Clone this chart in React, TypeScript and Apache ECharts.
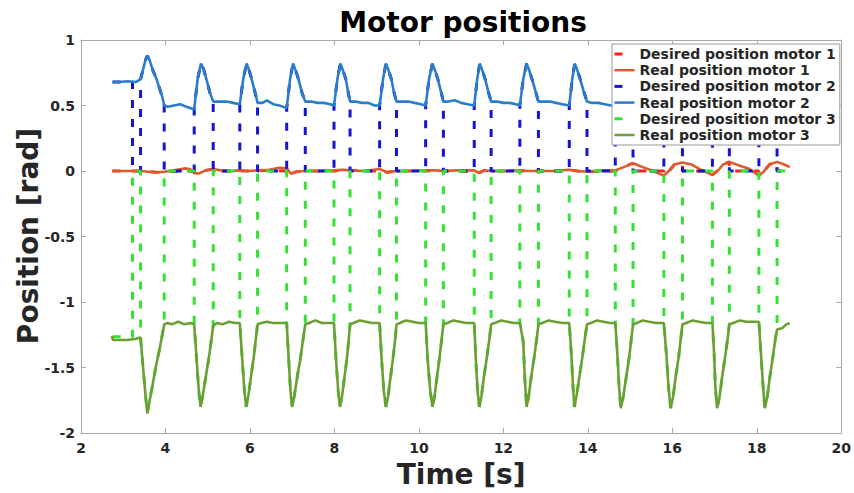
import { useEffect, useRef } from "react";
import * as echarts from "echarts";

const TITLE = "Motor positions";
const X_NAME = "Time [s]";
const Y_NAME = "Position [rad]";

const seriesNames = [
  "Desired position motor 1",
  "Real position motor 1",
  "Desired position motor 2",
  "Real position motor 2",
  "Desired position motor 3",
  "Real position motor 3",
];
const seriesColors = ["#ff1f1f", "#dc5a2c", "#1414d2", "#2a7dca", "#33e233", "#6a9f34"];

const X_MIN = 2;
const X_MAX = 20;
const X_STEP = 2;
const Y_MIN = -2;
const Y_MAX = 1;
const Y_STEP = 0.5;

// Measured joint angles [t (s), angle (rad)]
const realMotor1: [number, number][] = [
  [2.73, 0], [3.0, 0], [3.22, 0], [3.41, 0], [3.6, -0.005], [3.8, -0.01], [3.97, -0.005],
  [4.2, 0.005], [4.45, 0.02], [4.58, 0.015], [4.68, -0.015], [4.78, -0.02], [4.95, 0.005],
  [5.13, 0.015], [5.3, 0.005], [5.55, 0], [5.76, 0.005], [5.95, 0], [6.18, 0.005], [6.45, 0.01],
  [6.7, 0.025], [6.87, 0.02], [6.97, -0.02], [7.1, -0.005], [7.31, 0], [7.6, 0], [7.99, 0.005],
  [8.2, 0.01], [8.37, 0.005], [8.7, 0], [9.07, 0.015], [9.25, -0.01], [9.47, 0], [9.8, 0],
  [10.16, 0.005], [10.4, 0.005], [10.58, 0], [10.9, 0.005], [11.31, 0.005], [11.42, -0.015],
  [11.55, 0.005], [11.71, 0], [12.05, 0], [12.39, 0.005], [12.6, 0], [12.83, 0], [13.2, 0],
  [13.56, 0.01], [13.75, 0], [13.98, -0.005], [14.3, 0.005], [14.65, 0.005], [14.85, 0.03],
  [15.07, 0.06], [15.3, 0.03], [15.55, 0], [15.8, -0.035], [15.95, 0.01], [16.05, 0.05],
  [16.24, 0.065], [16.45, 0.05], [16.65, 0.015], [16.95, -0.03], [17.1, 0.01], [17.2, 0.05],
  [17.35, 0.07], [17.6, 0.04], [17.8, 0.02], [18.05, -0.035], [18.15, -0.01], [18.3, 0.05],
  [18.48, 0.07], [18.65, 0.05], [18.78, 0.03],
];

const realMotor2: [number, number][] = [
  [2.74, 0.68], [2.9, 0.68], [3.1, 0.685], [3.3, 0.68], [3.41, 0.7],
  [3.52, 0.84], [3.57, 0.88], [3.62, 0.85], [3.7, 0.77], [3.79, 0.7], [3.86, 0.63], [3.93, 0.56], [3.97, 0.5],
  [4.05, 0.49], [4.2, 0.5], [4.35, 0.51], [4.5, 0.49], [4.68, 0.47],
  [4.76, 0.7], [4.84, 0.82], [4.9, 0.78], [4.97, 0.7], [5.05, 0.6], [5.13, 0.53],
  [5.3, 0.53], [5.45, 0.53], [5.6, 0.52], [5.76, 0.51],
  [5.84, 0.7], [5.92, 0.82], [5.98, 0.77], [6.05, 0.69], [6.12, 0.6], [6.18, 0.52],
  [6.3, 0.52], [6.4, 0.54], [6.55, 0.51], [6.7, 0.5], [6.87, 0.48],
  [6.95, 0.7], [7.02, 0.82], [7.08, 0.77], [7.15, 0.7], [7.23, 0.6], [7.31, 0.53],
  [7.45, 0.53], [7.6, 0.52], [7.75, 0.52], [7.9, 0.51], [7.99, 0.5],
  [8.07, 0.7], [8.14, 0.82], [8.2, 0.77], [8.27, 0.7], [8.32, 0.61], [8.37, 0.53],
  [8.5, 0.53], [8.65, 0.52], [8.8, 0.52], [8.95, 0.5], [9.07, 0.5],
  [9.15, 0.7], [9.22, 0.82], [9.28, 0.77], [9.35, 0.7], [9.41, 0.6], [9.47, 0.53],
  [9.6, 0.53], [9.75, 0.53], [9.9, 0.52], [10.05, 0.51], [10.16, 0.5],
  [10.24, 0.7], [10.32, 0.82], [10.38, 0.77], [10.45, 0.7], [10.52, 0.61], [10.58, 0.53],
  [10.7, 0.53], [10.85, 0.54], [11.0, 0.52], [11.15, 0.51], [11.31, 0.5],
  [11.38, 0.7], [11.44, 0.82], [11.5, 0.77], [11.57, 0.7], [11.64, 0.61], [11.71, 0.53],
  [11.85, 0.53], [12.0, 0.52], [12.15, 0.52], [12.3, 0.51], [12.39, 0.5],
  [12.47, 0.7], [12.55, 0.82], [12.61, 0.77], [12.68, 0.7], [12.76, 0.61], [12.83, 0.53],
  [12.95, 0.53], [13.1, 0.53], [13.25, 0.52], [13.4, 0.51], [13.56, 0.5],
  [13.63, 0.7], [13.69, 0.82], [13.75, 0.77], [13.82, 0.7], [13.9, 0.61], [13.98, 0.53],
  [14.1, 0.52], [14.25, 0.52], [14.4, 0.51], [14.55, 0.5], [14.65, 0.5],
  [14.72, 0.7], [14.79, 0.82], [14.85, 0.77], [14.92, 0.7], [15.0, 0.61], [15.07, 0.53],
  [15.2, 0.53], [15.35, 0.52], [15.5, 0.52], [15.65, 0.51], [15.8, 0.5],
  [15.88, 0.7], [15.96, 0.82], [16.02, 0.77], [16.09, 0.7], [16.17, 0.61], [16.24, 0.53],
  [16.4, 0.53], [16.55, 0.52], [16.7, 0.52], [16.85, 0.51], [16.95, 0.5],
  [17.01, 0.7], [17.07, 0.82], [17.13, 0.77], [17.2, 0.7], [17.28, 0.61], [17.35, 0.53],
  [17.5, 0.53], [17.65, 0.52], [17.8, 0.52], [17.95, 0.51], [18.05, 0.5],
  [18.12, 0.7], [18.19, 0.82], [18.25, 0.77], [18.32, 0.7], [18.4, 0.61], [18.48, 0.53],
  [18.6, 0.53], [18.78, 0.52],
];

const realMotor3: [number, number][] = [
  [2.73, -1.26], [2.76, -1.29], [2.9, -1.29], [3.1, -1.29], [3.3, -1.28], [3.41, -1.27],
  [3.47, -1.5], [3.53, -1.72], [3.57, -1.85], [3.62, -1.76], [3.69, -1.64], [3.78, -1.48], [3.86, -1.36], [3.93, -1.24], [3.97, -1.17],
  [4.05, -1.16], [4.15, -1.17], [4.3, -1.15], [4.45, -1.17], [4.6, -1.16], [4.68, -1.17],
  [4.74, -1.45], [4.79, -1.68], [4.83, -1.8], [4.88, -1.72], [4.95, -1.58], [5.03, -1.42], [5.09, -1.28], [5.13, -1.18],
  [5.22, -1.16], [5.35, -1.17], [5.5, -1.15], [5.65, -1.16], [5.76, -1.16],
  [5.82, -1.45], [5.87, -1.68], [5.91, -1.8], [5.96, -1.72], [6.02, -1.58], [6.09, -1.42], [6.14, -1.28], [6.18, -1.17],
  [6.27, -1.16], [6.4, -1.15], [6.55, -1.16], [6.7, -1.16], [6.87, -1.16],
  [6.92, -1.45], [6.96, -1.68], [7.0, -1.8], [7.05, -1.72], [7.12, -1.57], [7.2, -1.42], [7.26, -1.28], [7.31, -1.17],
  [7.4, -1.16], [7.55, -1.14], [7.7, -1.16], [7.85, -1.16], [7.99, -1.16],
  [8.04, -1.45], [8.09, -1.68], [8.13, -1.8], [8.18, -1.72], [8.24, -1.57], [8.3, -1.42], [8.34, -1.28], [8.37, -1.17],
  [8.45, -1.16], [8.6, -1.14], [8.75, -1.15], [8.9, -1.16], [9.07, -1.16],
  [9.12, -1.45], [9.17, -1.68], [9.22, -1.8], [9.27, -1.72], [9.33, -1.57], [9.39, -1.42], [9.44, -1.28], [9.47, -1.17],
  [9.55, -1.16], [9.7, -1.14], [9.85, -1.15], [10.0, -1.16], [10.16, -1.16],
  [10.21, -1.45], [10.27, -1.68], [10.32, -1.8], [10.37, -1.72], [10.43, -1.57], [10.49, -1.42], [10.54, -1.28], [10.58, -1.17],
  [10.67, -1.16], [10.82, -1.14], [10.97, -1.15], [11.12, -1.16], [11.31, -1.16],
  [11.35, -1.45], [11.39, -1.68], [11.43, -1.8], [11.48, -1.72], [11.54, -1.57], [11.61, -1.42], [11.67, -1.28], [11.71, -1.17],
  [11.8, -1.16], [11.95, -1.14], [12.1, -1.15], [12.25, -1.16], [12.39, -1.16],
  [12.47, -1.3], [12.51, -1.6], [12.55, -1.8], [12.6, -1.72], [12.66, -1.57], [12.73, -1.42], [12.79, -1.28], [12.83, -1.17],
  [12.92, -1.16], [13.07, -1.14], [13.22, -1.15], [13.4, -1.16], [13.56, -1.16],
  [13.61, -1.4], [13.65, -1.65], [13.68, -1.8], [13.73, -1.72], [13.8, -1.57], [13.87, -1.42], [13.93, -1.28], [13.98, -1.17],
  [14.07, -1.16], [14.22, -1.14], [14.37, -1.15], [14.52, -1.16], [14.65, -1.16],
  [14.7, -1.4], [14.74, -1.65], [14.78, -1.81], [14.84, -1.72], [14.91, -1.57], [14.98, -1.42], [15.03, -1.28], [15.07, -1.17],
  [15.16, -1.16], [15.3, -1.14], [15.45, -1.15], [15.62, -1.16], [15.8, -1.16],
  [15.86, -1.4], [15.91, -1.65], [15.96, -1.81], [16.02, -1.72], [16.08, -1.57], [16.15, -1.42], [16.2, -1.28], [16.24, -1.17],
  [16.33, -1.16], [16.48, -1.14], [16.63, -1.15], [16.8, -1.16], [16.95, -1.16],
  [16.99, -1.4], [17.02, -1.65], [17.06, -1.81], [17.12, -1.72], [17.18, -1.57], [17.25, -1.42], [17.31, -1.28], [17.35, -1.17],
  [17.44, -1.16], [17.6, -1.14], [17.75, -1.15], [17.92, -1.15], [18.05, -1.15],
  [18.1, -1.4], [18.15, -1.65], [18.19, -1.81], [18.25, -1.72], [18.31, -1.57], [18.38, -1.42], [18.44, -1.28], [18.48, -1.21],
  [18.6, -1.2], [18.7, -1.17], [18.78, -1.16],
];

// Commanded trajectory: initial hold, then active windows where the
// reference tracks the motion; the command is 0 rad between windows.
const HOLD_START = 2.75;
const HOLD_END = 3.22;
const holdValues = [0, 0.68, -1.265];
const windowStart = [3.41, 4.68, 5.76, 6.87, 7.99, 9.07, 10.16, 11.31, 12.39, 13.56, 14.65, 15.8, 16.95, 18.05];
const windowEnd = [3.97, 5.13, 6.18, 7.31, 8.37, 9.47, 10.58, 11.71, 12.83, 13.98, 15.07, 16.24, 17.35, 18.48];

function desiredFrom(real: [number, number][], hold: number): [number, number][] {
  const pts: [number, number][] = [
    [HOLD_START, hold],
    [HOLD_END, hold],
    [HOLD_END, 0],
  ];
  windowStart.forEach((a, i) => {
    const b = windowEnd[i];
    pts.push([a, 0]);
    real.filter(([t]) => t >= a && t <= b).forEach((p) => pts.push(p));
    pts.push([b, 0]);
  });
  pts.push([real[real.length - 1][0], 0]);
  return pts;
}

const FONT = "DejaVu Sans";
const AXIS_GRAY = "#a9a9a9";
const TEXT_DARK = "#262626";
const DASH = [8, 11];

export default function App() {
  const ref = useRef<HTMLDivElement>(null);

  useEffect(() => {
    if (!ref.current) return;
    const chart = echarts.init(ref.current, undefined, { renderer: "svg" });

    const seriesData = [
      desiredFrom(realMotor1, holdValues[0]),
      realMotor1,
      desiredFrom(realMotor2, holdValues[1]),
      realMotor2,
      desiredFrom(realMotor3, holdValues[2]),
      realMotor3,
    ];

    const series = seriesNames.map((name, i) => {
      const dashed = i % 2 === 0;
      return {
        name,
        type: "line",
        data: seriesData[i],
        showSymbol: false,
        symbol: "none",
        xAxisIndex: 0,
        yAxisIndex: 0,
        lineStyle: {
          color: seriesColors[i],
          width: dashed ? 3 : 2.6,
          type: dashed ? DASH : "solid",
        },
        itemStyle: { color: seriesColors[i] },
        emphasis: { disabled: true },
      };
    });

    const baseAxis = {
      axisLine: { show: true, onZero: false, lineStyle: { color: AXIS_GRAY, width: 1 } },
      axisTick: { show: true, inside: true, length: 5, lineStyle: { color: AXIS_GRAY } },
      splitLine: { show: false },
    };
    const labelStyle = {
      color: TEXT_DARK,
      fontFamily: FONT,
      fontWeight: "bold" as const,
      fontSize: 14,
    };

    chart.setOption({
      animation: false,
      backgroundColor: "#ffffff",
      title: {
        text: TITLE,
        left: 458,
        top: 3,
        textAlign: "center",
        textStyle: { fontFamily: FONT, fontWeight: "bold", fontSize: 28, color: "#000000" },
      },
      grid: { left: 81, right: 7, top: 40, bottom: 56, containLabel: false },
      legend: {
        orient: "vertical",
        left: 612,
        top: 44,
        padding: [3, 4, 3, 1],
        itemWidth: 20,
        itemHeight: 14,
        itemGap: 2.2,
        backgroundColor: "#ffffff",
        borderColor: "#9a9a9a",
        borderWidth: 1,
        borderRadius: 0,
        selectedMode: false,
        itemStyle: { opacity: 0 },
        textStyle: { fontFamily: FONT, fontWeight: "bold", fontSize: 14, color: TEXT_DARK },
        data: seriesNames.map((name, i) =>
          i % 2 === 0
            ? { name, itemStyle: { opacity: 0 }, lineStyle: { type: [8, 200], width: 3 } }
            : { name, itemStyle: { opacity: 0 }, lineStyle: { width: 2.5 } }
        ),
      },
      xAxis: [
        {
          ...baseAxis,
          type: "value",
          position: "bottom",
          min: X_MIN,
          max: X_MAX,
          interval: X_STEP,
          name: X_NAME,
          nameLocation: "middle",
          nameGap: 22,
          nameTextStyle: { fontFamily: FONT, fontWeight: "bold", fontSize: 28, color: TEXT_DARK, verticalAlign: "top" },
          axisLabel: { ...labelStyle, margin: 8 },
        },
        {
          ...baseAxis,
          type: "value",
          position: "top",
          min: X_MIN,
          max: X_MAX,
          interval: X_STEP,
          axisLabel: { show: false },
        },
      ],
      yAxis: [
        {
          ...baseAxis,
          type: "value",
          position: "left",
          min: Y_MIN,
          max: Y_MAX,
          interval: Y_STEP,
          axisLabel: { ...labelStyle, margin: 6 },
        },
        {
          ...baseAxis,
          type: "value",
          position: "right",
          min: Y_MIN,
          max: Y_MAX,
          interval: Y_STEP,
          axisLabel: { show: false },
        },
      ],
      graphic: [
        {
          type: "text",
          x: 28,
          y: 236,
          rotation: Math.PI / 2,
          style: {
            text: Y_NAME,
            fontFamily: FONT,
            fontWeight: "bold",
            fontSize: 28,
            fill: TEXT_DARK,
            textAlign: "center",
            textVerticalAlign: "middle",
          },
        },
      ],
      series,
    });

    return () => chart.dispose();
  }, []);

  return (
    <div
      ref={ref}
      style={{ position: "absolute", left: 0, top: 0, width: 854, height: 493 }}
    />
  );
}
